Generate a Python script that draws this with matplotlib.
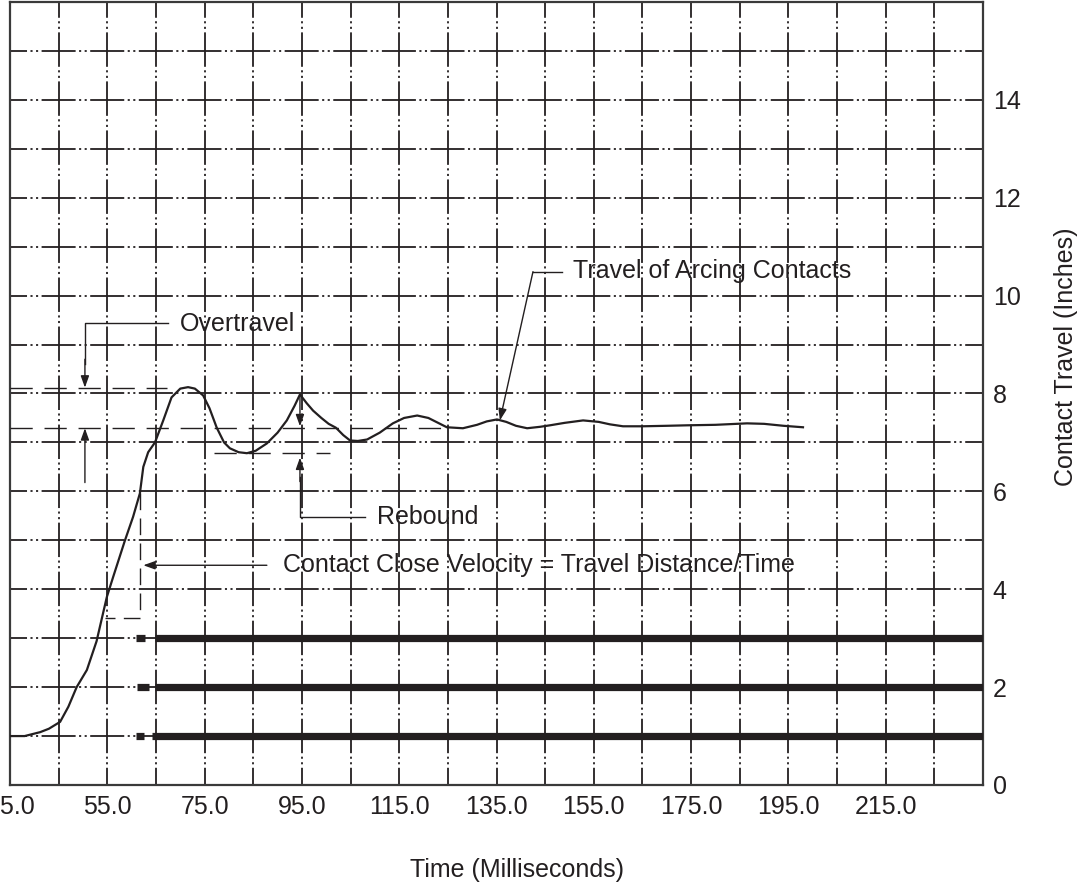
import matplotlib
matplotlib.use("Agg")
import matplotlib.pyplot as plt

plt.rcParams['font.family'] = ['Liberation Sans', 'DejaVu Sans']
plt.rcParams['lines.scale_dashes'] = False

INK = '#231f20'

# ---- data ----
time_ms = [35, 38, 41.2, 43, 45.3, 47, 48.7, 50.8, 52.8, 53.8, 54.9, 56.2, 58.6, 60.3,
           61.7, 62.4, 63.4, 64.8, 66.5, 68.2, 70, 71.6, 73, 74.7,
           76, 77.5, 79, 80.2, 82, 83.7, 85.5, 87.8, 90, 91.9, 93.5, 94.6, 96, 97.3,
           99, 100.5, 102, 103.5, 104.9, 106.5, 108.4, 111, 113.7, 116, 118.7, 121,
           123, 124.8, 128.1, 131, 133, 135.1, 137, 139, 141.3, 144, 146, 149, 152.8,
           156, 158.3, 161, 165, 170, 174.2, 180, 186.5, 190, 194, 198]
travel_in = [1.0, 1.0, 1.08, 1.15, 1.29, 1.6, 2.0, 2.35, 2.94, 3.37, 3.84, 4.25, 4.99, 5.48,
             5.96, 6.5, 6.8, 7.0, 7.45, 7.92, 8.1, 8.13, 8.1, 7.96,
             7.7, 7.3, 7.0, 6.88, 6.8, 6.78, 6.83, 6.98, 7.2, 7.45, 7.75, 7.98, 7.8, 7.65,
             7.5, 7.38, 7.3, 7.15, 7.04, 7.03, 7.06, 7.2, 7.39, 7.5, 7.55, 7.5,
             7.4, 7.31, 7.29, 7.36, 7.43, 7.47, 7.42, 7.34, 7.29, 7.32, 7.35, 7.4, 7.45,
             7.42, 7.37, 7.33, 7.33, 7.34, 7.35, 7.36, 7.39, 7.38, 7.34, 7.31]

x_ticks = [35, 55, 75, 95, 115, 135, 155, 175, 195, 215]
x_tick_labels = ['35.0', '55.0', '75.0', '95.0', '115.0', '135.0', '155.0', '175.0', '195.0', '215.0']
x_grid = [45, 55, 65, 75, 85, 95, 105, 115, 125, 135, 145, 155, 165, 175, 185, 195, 205, 215, 225]
y_ticks = [0, 2, 4, 6, 8, 10, 12, 14]
y_grid = list(range(1, 16))

contact_levels = [1, 2, 3]
contact_start = [64.1, 64.8, 64.8]
marker_start = [60.9, 61.2, 60.8]
marker_end = [62.6, 63.6, 62.7]

overtravel_top = 8.12
overtravel_bottom = 7.29
rebound_low = 6.78

fig = plt.figure(figsize=(10.79, 8.89), dpi=100)
ax = fig.add_axes([10/1079, 104/889, 973/1079, 783/889])
ax.set_xlim(35, 235)
ax.set_ylim(0, 16)

# grid: long dash + two dots per cell, dash centred on intersections
h_dash = (12.25, (24.5, 2.5, 1.5, 2.5, 1.5, 2.5))
v_dash = (12.4, (24.8, 2.5, 1.5, 2.5, 1.5, 2.5))
for gx in x_grid:
    ax.axvline(gx, color=INK, lw=1.3, linestyle=v_dash, zorder=1)
for gy in y_grid:
    ax.axhline(gy, color=INK, lw=1.3, linestyle=h_dash, zorder=1)

# main travel curve
ax.plot(time_ms, travel_in, color=INK, lw=1.6, zorder=4)

# contact bars
for lvl, s, m0, m1 in zip(contact_levels, contact_start, marker_start, marker_end):
    ax.plot([s, 235], [lvl, lvl], color=INK, lw=5.2, solid_capstyle='butt', zorder=5)
    ax.plot([m0, m1], [lvl, lvl], color=INK, lw=5.2, solid_capstyle='butt', zorder=5)

ref_dash = (0, (16, 8.5))
ax.plot([35, 67.3], [overtravel_top, overtravel_top], color=INK, lw=1.0, linestyle=ref_dash, zorder=3)
ax.plot([35, 124], [overtravel_bottom, overtravel_bottom], color=INK, lw=1.0, linestyle=ref_dash, zorder=3)
ax.plot([77, 100.8], [rebound_low, rebound_low], color=INK, lw=1.0, linestyle=ref_dash, zorder=3)
# velocity L
ax.plot([61.7, 61.7, 54.5], [5.96, 3.41, 3.41], color=INK, lw=1.0, linestyle=(0, (12, 6)), zorder=3)

arrow = dict(arrowstyle='-|>,head_length=0.7,head_width=0.25', color=INK, lw=1.0,
             shrinkA=0, shrinkB=0)
fs = 18

# Overtravel
ax.text(69.9, 9.43, 'Overtravel', fontsize=fs, color=INK, va='center', ha='left')
ax.plot([67.5, 50.4, 50.4], [9.45, 9.45, 8.6], color=INK, lw=1.0, zorder=6)
ax.annotate('', xy=(50.4, overtravel_top), xytext=(50.4, 8.7), arrowprops=arrow)
ax.annotate('', xy=(50.4, overtravel_bottom), xytext=(50.4, 6.18), arrowprops=arrow)

# Rebound
ax.text(110.4, 5.47, 'Rebound', fontsize=fs, color=INK, va='center', ha='left')
ax.annotate('', xy=(94.6, 7.33), xytext=(94.6, 7.98), arrowprops=arrow)
ax.plot([108.0, 94.6, 94.6], [5.47, 5.47, 6.3], color=INK, lw=1.0, zorder=6)
ax.annotate('', xy=(94.6, 6.69), xytext=(94.6, 6.2), arrowprops=arrow)

# Contact close velocity
ax.text(91.1, 4.49, 'Contact Close Velocity = Travel Distance/Time', fontsize=fs,
        color=INK, va='center', ha='left')
ax.annotate('', xy=(62.4, 4.49), xytext=(87.8, 4.49), arrowprops=arrow)

# Travel of arcing contacts
ax.text(150.7, 10.51, 'Travel of Arcing Contacts', fontsize=fs, color=INK, va='center', ha='left')
ax.plot([148.5, 142.5], [10.49, 10.49], color=INK, lw=1.0, zorder=6)
ax.annotate('', xy=(135.7, 7.45), xytext=(142.5, 10.49), arrowprops=arrow)

# axes styling
ax.set_xticks(x_ticks)
ax.set_xticklabels(x_tick_labels)
ax.set_yticks(y_ticks)
ax.yaxis.tick_right()
ax.tick_params(axis='both', length=0, labelsize=fs, colors=INK)
ax.tick_params(axis='x', pad=7)
ax.tick_params(axis='y', pad=7)
for sp in ax.spines.values():
    sp.set_color('#3a3a3a')
    sp.set_linewidth(1.6)

fig.text(517/1079, 1 - 870/889, 'Time (Milliseconds)', fontsize=fs, color=INK,
         ha='center', va='center')
fig.text(1066/1079, 1 - 357/889, 'Contact Travel (Inches)', fontsize=fs, color=INK,
         ha='center', va='center', rotation=90)

fig.savefig('out.png', dpi=100)
